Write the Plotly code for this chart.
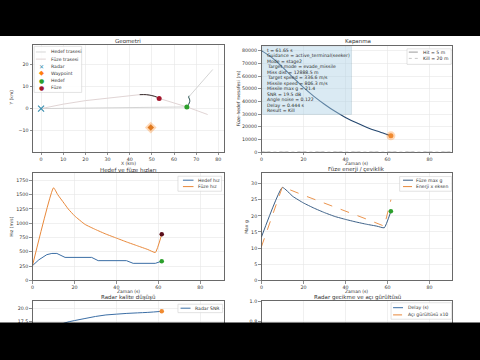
import plotly.graph_objects as go

W, H = 480, 360
FONT = "DejaVu Sans"
TICK = 4.75
TITLE = 5.5
ALAB = 4.5
LEG = 4.6
INK = "#333333"

def X(px):
    return px / W

def Y(py):
    return 1 - py / H

# ---------------- data ----------------
# Geometri (km)
radar_x = [0.0]
radar_y = [0.0]
waypoint_x = [49.5]
waypoint_y = [-8.6]
target_path_x = [77.5, 75.0, 72.5, 70.0, 68.0, 66.8, 66.6, 67.0, 67.1, 66.6, 65.8]
target_path_y = [17.7, 14.8, 12.0, 9.1, 6.9, 5.8, 5.2, 4.3, 3.2, 1.9, 0.75]
missile_path_x = [0.0, 10.0, 20.0, 30.0, 40.0, 44.5, 47.5, 50.0, 52.0, 53.3]
missile_path_y = [0.0, 2.0, 3.6, 4.8, 5.9, 6.3, 6.3, 5.9, 5.3, 4.6]
los_x = [53.3, 65.8, 75.2]
los_y = [4.6, 0.75, -2.7]
trail_n_target = 6
trail_n_missile = 5

# Kapanma
t_close = [0, 5, 10, 15, 20, 25, 30, 35, 40, 45, 50, 55, 58.5, 61.65]
dist_m = [80000, 74500, 67000, 59000, 51000, 44000, 37800, 32200, 27400, 23300, 19700, 16600, 14700, 12888.5]
hit_m = 5
kill_m = 20

# Hizlar
t_target = [0, 3, 6.8, 9.2, 11.6, 13.5, 15.5, 28.2, 30, 31.3, 44.8, 46.5, 48, 58.6, 61.65]
v_target = [259, 360, 450, 471, 471, 440, 402, 402, 370, 345, 345, 320, 298, 298, 336.6]
t_missile = [0, 10, 12, 15, 17, 20, 25, 30, 35, 40, 45, 50, 55, 58.6, 61.65]
v_missile = [265, 1620, 1500, 1350, 1250, 1130, 980, 890, 810, 740, 670, 605, 540, 488, 806.3]

# Enerji / ceviklik
t_g = [0, 10, 15, 20, 25, 30, 35, 40, 45, 50, 55, 58.5, 61.65]
max_g = [13.4, 28.8, 26.0, 24.0, 22.4, 21.0, 19.8, 18.9, 18.1, 17.4, 16.8, 16.3, 21.4]
t_e = [0, 10, 20, 30, 40, 50, 58.5, 61.65]
energy_scaled = [10.4, 29.0, 26.4, 24.0, 21.5, 19.0, 16.8, 25.0]

# Radar
t_radar = [0, 5, 10, 15, 20, 25, 30, 35, 40, 45, 50, 55, 61.65]
snr_db = [14.0, 15.0, 16.2, 17.2, 17.7, 18.1, 18.5, 18.8, 18.95, 19.1, 19.2, 19.3, 19.5]
delay_s = [0.10, 0.14, 0.18, 0.22, 0.26, 0.29, 0.32, 0.35, 0.37, 0.39, 0.41, 0.43, 0.444]
angle_noise_x10 = [1.05, 1.06, 1.08, 1.09, 1.10, 1.12, 1.13, 1.15, 1.16, 1.18, 1.19, 1.21, 1.22]

info_lines = [
    "t = 61.65 s",
    "Guidance = active_terminal(seeker)",
    "Mode = stage2",
    "Target mode = evade_missile",
    "Miss dist = 12888.5 m",
    "Target speed = 336.6 m/s",
    "Missile speed = 806.3 m/s",
    "Missile max g = 21.4",
    "SNR = 19.5 dB",
    "Angle noise = 0.122",
    "Delay = 0.444 s",
    "Result = Kill",
]

C0, C1, C2, C3 = "#1f77b4", "#ff7f0e", "#2ca02c", "#d62728"
NAVY = "#23466e"
FAINT_T = "#cfcfcf"
FAINT_M = "#dccfcf"
TRAIL_T = "#2f5c5a"
TRAIL_M = "#3a2f30"
MRED = "#a3162c"

fig = go.Figure()

# ---------- axes ----------
axes = {
    1: dict(x=(31, 223), y=(44, 152), xr=[-3.7, 82.6], yr=[-19.6, 28.6], dx=10, dy=10, fmt=None, xl=True),
    2: dict(x=(260.5, 452), y=(45, 152.3), xr=[0, 90.8], yr=[0, 83340], dx=20, dy=10000, fmt="d", xl=True),
    3: dict(x=(30.7, 223), y=(173.3, 282.3), xr=[0, 91.4], yr=[0, 1880], dx=20, dy=250, fmt="d", xl=True),
    4: dict(x=(260.5, 452), y=(173, 282.3), xr=[0, 90.8], yr=[0, 33.4], dx=20, dy=5, fmt=None, xl=True),
    5: dict(x=(30.7, 223), y=(303.3, 360), xr=[0, 91.4], yr=[10.6, 21.5], dx=20, dy=2.5, fmt=".1f", xl=False),
    6: dict(x=(260.5, 452), y=(303.3, 360), xr=[0, 90.8], yr=[0.46, 1.0], dx=20, dy=0.2, fmt=".1f", xl=False),
}
lay = {}
for i, a in axes.items():
    xn = "xaxis" if i == 1 else f"xaxis{i}"
    yn = "yaxis" if i == 1 else f"yaxis{i}"
    common = dict(showline=True, mirror=True, linecolor="#444444", linewidth=0.8,
                  showgrid=True, gridcolor="#e6e6e6", gridwidth=0.6, zeroline=False,
                  ticks="outside", ticklen=2.5, tickwidth=0.6, tickcolor="#444444",
                  tickfont=dict(family=FONT, size=TICK, color=INK), tick0=0)
    lay[xn] = dict(common, domain=[X(a["x"][0]), X(a["x"][1])], anchor="y" if i == 1 else f"y{i}",
                   range=a["xr"], dtick=a["dx"], showticklabels=a["xl"])
    yd = dict(common, domain=[Y(a["y"][1]), Y(a["y"][0])], anchor="x" if i == 1 else f"x{i}",
              range=a["yr"], dtick=a["dy"])
    if a["fmt"]:
        yd["tickformat"] = a["fmt"]
    lay[yn] = yd

def ref(i):
    return ("x", "y") if i == 1 else (f"x{i}", f"y{i}")

def add(i, **kw):
    xr, yr = ref(i)
    fig.add_trace(go.Scatter(xaxis=xr, yaxis=yr, showlegend=False, hoverinfo="skip", **kw))

# ---------- Geometri ----------
add(1, x=[radar_x[0], target_path_x[-1]], y=[radar_y[0], target_path_y[-1]], mode="lines",
    line=dict(color=FAINT_T, width=0.9), name="LOS")
add(1, x=los_x, y=los_y, mode="lines", line=dict(color=FAINT_M, width=0.9), name="Füze LOS")
add(1, x=target_path_x, y=target_path_y, mode="lines", line=dict(color=FAINT_T, width=0.9), name="Hedef trasesi")
add(1, x=missile_path_x, y=missile_path_y, mode="lines", line=dict(color=FAINT_M, width=0.9), name="Füze trasesi")
add(1, x=target_path_x[-trail_n_target:], y=target_path_y[-trail_n_target:], mode="lines",
    line=dict(color=TRAIL_T, width=1.0, shape="spline"), name="Hedef iz")
add(1, x=missile_path_x[-trail_n_missile:], y=missile_path_y[-trail_n_missile:], mode="lines",
    line=dict(color=TRAIL_M, width=1.0, shape="spline"), name="Füze iz")
add(1, x=radar_x, y=radar_y, mode="markers", marker=dict(symbol="x-thin", size=6, color="#3a8fb0",
    line=dict(color="#3a8fb0", width=1.2)), name="Radar")
add(1, x=waypoint_x, y=waypoint_y, mode="markers", marker=dict(symbol="diamond", size=9, color=C1, opacity=0.3), name="")
add(1, x=waypoint_x, y=waypoint_y, mode="markers", marker=dict(symbol="diamond", size=5, color="#e07a20"), name="Waypoint")
add(1, x=target_path_x[-1:], y=target_path_y[-1:], mode="markers", marker=dict(size=5, color=C2), name="Hedef")
add(1, x=missile_path_x[-1:], y=missile_path_y[-1:], mode="markers", marker=dict(size=5, color=MRED), name="Füze")

# ---------- Kapanma ----------
add(2, x=t_close, y=dist_m, mode="lines", line=dict(color=NAVY, width=1.1, shape="spline"), name="Mesafe")
add(2, x=t_close[-1:], y=dist_m[-1:], mode="markers", marker=dict(size=9, color=C1, opacity=0.3), name="")
add(2, x=t_close[-1:], y=dist_m[-1:], mode="markers", marker=dict(size=5, color="#f08a30"), name="Son")

# ---------- Hizlar ----------
add(3, x=t_target, y=v_target, mode="lines", line=dict(color="#3b6ea5", width=1.0), name="Hedef hız")
add(3, x=t_missile, y=v_missile, mode="lines", line=dict(color="#e8883a", width=1.0, shape="spline", smoothing=0.4), name="Füze hız")
add(3, x=t_target[-1:], y=v_target[-1:], mode="markers", marker=dict(size=4.5, color=C2), name="")
add(3, x=t_missile[-1:], y=v_missile[-1:], mode="markers", marker=dict(size=4.5, color="#5a0d1a"), name="")

# ---------- Enerji ----------
add(4, x=t_g, y=max_g, mode="lines", line=dict(color="#3b5f86", width=1.0, shape="spline", smoothing=0.4), name="Füze max g")
add(4, x=t_e, y=energy_scaled, mode="lines", line=dict(color="#e8883a", width=0.9, dash="dash"), name="Enerji x eksen")
add(4, x=t_g[-1:], y=max_g[-1:], mode="markers", marker=dict(size=4.5, color=C2), name="")

# ---------- Radar ----------
add(5, x=t_radar, y=snr_db, mode="lines", line=dict(color="#3b6ea5", width=1.0, shape="spline"), name="Radar SNR")
add(5, x=t_radar[-1:], y=snr_db[-1:], mode="markers", marker=dict(size=4.5, color="#f08a30"), name="")
add(6, x=t_radar, y=delay_s, mode="lines", line=dict(color="#3b6ea5", width=1.0), name="Delay (s)")
add(6, x=t_radar, y=angle_noise_x10, mode="lines", line=dict(color="#e8883a", width=1.0, dash="dash"), name="Açı gürültüsü x10")

shapes = []
annos = []

# hit / kill thresholds
for val, dash in ((hit_m, "dash"), (kill_m, "dot")):
    shapes.append(dict(type="line", xref="x2 domain", yref="y2", x0=0, x1=1, y0=val, y1=val,
                       line=dict(color="#999999", width=0.8, dash=dash)))

def text(x, y, s, size=TICK, angle=0, anchor="center", color=INK):
    annos.append(dict(x=X(x), y=Y(y), xref="paper", yref="paper", text=s, showarrow=False,
                      xanchor=anchor, yanchor="middle", textangle=angle, borderpad=0,
                      font=dict(family=FONT, size=size, color=color)))

# titles
text(127, 39.5, "Geometri", TITLE)
text(357, 39.8, "Kapanma", TITLE)
text(127, 170.4, "Hedef ve füze hızları", TITLE)
text(356, 170.3, "Füze enerji / çeviklik", TITLE)
text(127, 300.0, "Radar kalite düşüşü", TITLE)
text(356.7, 300.0, "Radar gecikme ve açı gürültüsü", TITLE)

# axis labels
text(127, 163.9, "X (km)", ALAB)
text(10, 97, "Y (km)", ALAB, angle=-90)
text(356, 163.9, "Zaman (s)", ALAB)
text(237.8, 98, "Füze-hedef mesafesi (m)", ALAB, angle=-90)
text(127, 293.4, "Zaman (s)", ALAB)
text(10, 228, "Hız (m/s)", ALAB, angle=-90)
text(356, 293.4, "Zaman (s)", ALAB)
text(246, 228, "Max g", ALAB, angle=-90)

# info box
shapes.append(dict(type="rect", xref="paper", yref="paper", x0=X(261.7), x1=X(351), y0=Y(114), y1=Y(45),
                   fillcolor="rgba(173,209,228,0.45)", line=dict(color="rgba(120,150,170,0.35)", width=0.6),
                   layer="above"))
for k, s in enumerate(info_lines):
    text(265, 49.3 + k * 5.52, s, 4.6, anchor="left", color="#2a2a2a")

# legends
def legend(box, entries):
    x0, y0, x1, y1 = box
    shapes.append(dict(type="rect", xref="paper", yref="paper", x0=X(x0), x1=X(x1), y0=Y(y1), y1=Y(y0),
                       fillcolor="rgba(255,255,255,0.85)", line=dict(color="#d0d0d0", width=0.6),
                       layer="above"))
    for e in entries:
        y = e["y"]
        if e.get("line"):
            shapes.append(dict(type="line", xref="paper", yref="paper", x0=X(e["sx"][0]), x1=X(e["sx"][1]),
                               y0=Y(y), y1=Y(y), line=dict(color=e["color"], width=1.0, dash=e.get("dash", "solid")),
                               layer="above"))
        else:
            text((e["sx"][0] + e["sx"][1]) / 2, y, f"<span style='color:{e['color']}'>{e['glyph']}</span>",
                 e.get("gsize", 6))
        text(e["lx"], y, e["label"], LEG, anchor="left")

legend((32.3, 45, 80, 91.7), [
    dict(y=50.7, line=True, sx=(34, 44), color="#d6d6d6", lx=48.3, label="Hedef trasesi"),
    dict(y=57.9, line=True, sx=(34, 44), color="#e0d4d4", lx=48.3, label="Füze trasesi"),
    dict(y=65.0, sx=(37, 43), color="#3a8fb0", glyph="✕", lx=48.3, label="Radar", gsize=6),
    dict(y=72.2, sx=(37, 43), color=C1, glyph="◆", lx=48.3, label="Waypoint", gsize=6.5),
    dict(y=79.3, sx=(37, 43), color=C2, glyph="●", lx=48.3, label="Hedef", gsize=6),
    dict(y=86.5, sx=(37, 43), color=MRED, glyph="●", lx=48.3, label="Füze", gsize=6),
])
legend((406.7, 47.5, 451, 63.3), [
    dict(y=50.8, line=True, sx=(408.5, 418.5), color="#9a9a9a", dash="dash", lx=421.7, label="Hit = 5 m"),
    dict(y=57.2, line=True, sx=(408.5, 418.5), color="#c8c8c8", dash="dot", lx=421.7, label="Kill = 20 m"),
])
legend((176.7, 176.7, 220.5, 191.9), [
    dict(y=180.7, line=True, sx=(181.7, 192.3), color="#3b6ea5", lx=196, label="Hedef hız"),
    dict(y=187.2, line=True, sx=(181.7, 192.3), color="#e8883a", lx=196, label="Füze hız"),
])
legend((399.3, 177, 451.5, 191.9), [
    dict(y=180.7, line=True, sx=(402.7, 412.7), color="#3b5f86", lx=415, label="Füze max g"),
    dict(y=187.2, line=True, sx=(402.7, 412.7), color="#e8883a", dash="dash", lx=415, label="Enerji x eksen"),
])
legend((176.7, 306.5, 221.5, 315), [
    dict(y=310.5, line=True, sx=(179.3, 189.3), color="#3b6ea5", lx=192.7, label="Radar SNR"),
])
legend((390.7, 305, 451.5, 321.7), [
    dict(y=310, line=True, sx=(392.7, 402.7), color="#3b6ea5", lx=406.7, label="Delay (s)"),
    dict(y=317.3, line=True, sx=(392.7, 402.7), color="#e8883a", dash="dash", lx=406.7, label="Açı gürültüsü x10"),
])

# letterbox bars (video frame)
shapes.append(dict(type="rect", xref="paper", yref="paper", x0=-0.01, x1=1.01, y0=Y(34.5), y1=1.01,
                   fillcolor="black", line=dict(width=0), layer="above"))
shapes.append(dict(type="rect", xref="paper", yref="paper", x0=-0.01, x1=1.01, y0=-0.01, y1=Y(325),
                   fillcolor="black", line=dict(width=0), layer="above"))

fig.update_layout(
    width=W, height=H, margin=dict(l=0, r=0, t=0, b=0),
    paper_bgcolor="white", plot_bgcolor="white",
    font=dict(family=FONT, size=TICK, color=INK),
    showlegend=False, shapes=shapes, annotations=annos, **lay)

fig.write_html("out.html", config={"displayModeBar": False, "staticPlot": True},
               post_script="document.body.style.margin='0';document.body.style.padding='0';"
                           "document.body.style.overflow='hidden';document.body.style.background='black';")
